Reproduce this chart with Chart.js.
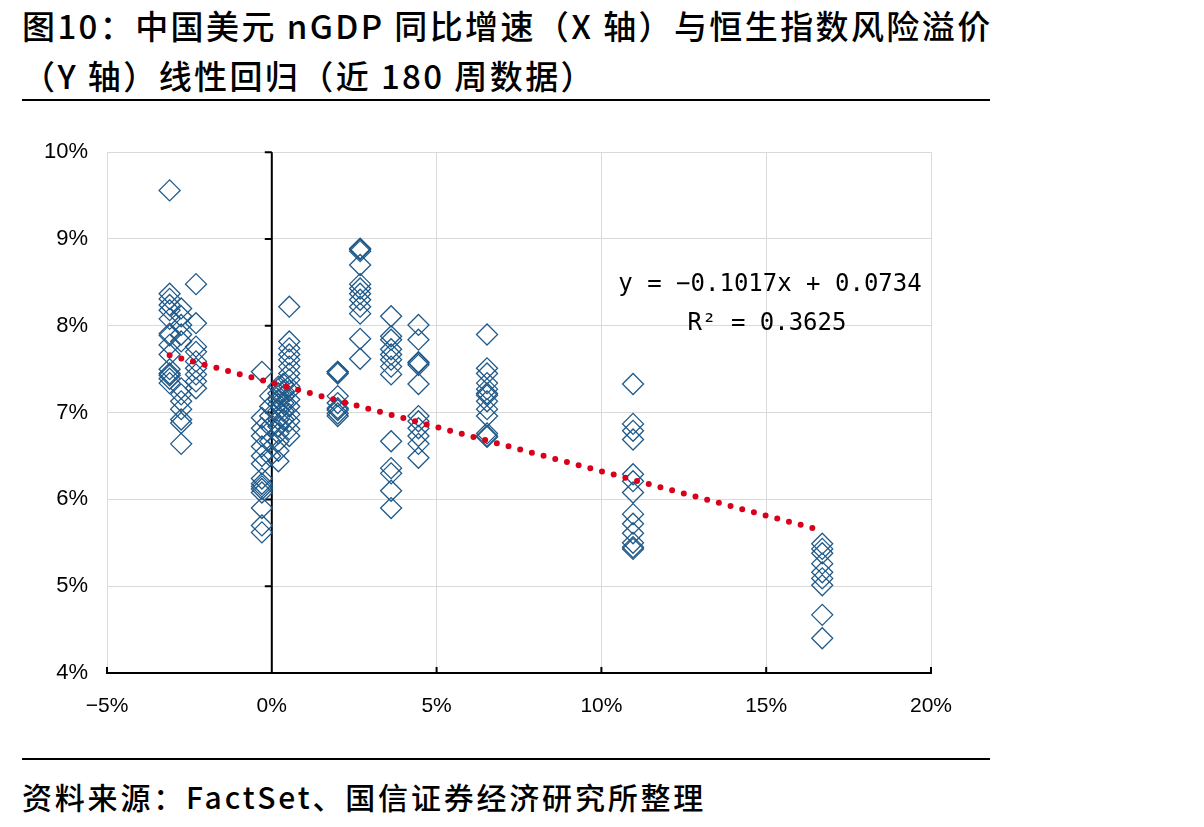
<!DOCTYPE html>
<html>
<head>
<meta charset="utf-8">
<script src="https://cdn.jsdelivr.net/npm/chart.js@4.4.1/dist/chart.umd.min.js"></script>
<style>
  body { margin: 0; background: #fff; width: 1204px; height: 827px; position: relative; overflow: hidden; }
  .title { position: absolute; left: 22px; top: 0px; font-family: "Noto Sans CJK SC", sans-serif; font-weight: 500; font-size: 33px; letter-spacing: 2.4px; line-height: 50px; color: #000; white-space: nowrap; }
  .rule { position: absolute; left: 22px; width: 968px; height: 2px; background: #000; }
  .source { position: absolute; left: 22px; top: 774px; font-family: "Noto Sans CJK SC", sans-serif; font-weight: 500; font-size: 30px; letter-spacing: 2.8px; line-height: 44px; color: #000; white-space: nowrap; }
  #chart { position: absolute; left: 0; top: 120px; }
</style>
</head>
<body>
<div class="title">图10：中国美元 nGDP 同比增速（X 轴）与恒生指数风险溢价<br>（Y 轴）线性回归（近 180 周数据）</div>
<div class="rule" style="top:99px"></div>
<canvas id="chart" width="1000" height="620"></canvas>
<div class="rule" style="top:758px"></div>
<div class="source">资料来源：FactSet、国信证券经济研究所整理</div>
<script>
// x = 中国美元nGDP同比 (%), y = 恒生指数风险溢价 (%)
var clusterX = [-3.1, -2.75, -2.3, -0.3, -0.05, 0.2, 0.35, 0.53, 2.0, 2.68, 3.62, 4.45, 6.53, 10.96, 16.7];
var clusterY = [
  [9.56, 8.37, 8.31, 8.24, 8.18, 8.08, 7.91, 7.89, 7.78, 7.67, 7.50, 7.45, 7.43, 7.39, 7.34],
  [8.20, 8.11, 8.01, 7.90, 7.82, 7.28, 7.21, 7.13, 7.04, 6.92, 6.88, 6.64],
  [8.48, 8.03, 7.76, 7.70, 7.59, 7.51, 7.44, 7.36, 7.28],
  [7.47, 6.94, 6.82, 6.73, 6.61, 6.50, 6.41, 6.24, 6.18, 6.15, 6.12, 6.08, 5.90, 5.70, 5.62],
  [7.19, 7.07, 6.96, 6.84, 6.67, 6.50],
  [7.30, 7.22, 7.15, 7.10, 7.02, 6.92, 6.84, 6.76, 6.67, 6.56, 6.44],
  [7.33, 7.25, 7.19, 7.11, 7.02, 6.92],
  [8.22, 7.82, 7.74, 7.67, 7.61, 7.53, 7.45, 7.38, 7.30, 7.25, 7.15, 7.07, 6.98, 6.90, 6.81, 6.73],
  [7.47, 7.47, 7.45, 7.19, 7.11, 7.05, 7.03, 6.99, 6.96],
  [8.89, 8.88, 8.86, 8.70, 8.48, 8.43, 8.37, 8.30, 8.22, 8.14, 7.85, 7.62],
  [8.11, 7.88, 7.84, 7.73, 7.67, 7.61, 7.53, 7.44, 6.67, 6.36, 6.30, 6.10, 5.90],
  [8.01, 7.84, 7.58, 7.57, 7.55, 7.33, 6.96, 6.90, 6.82, 6.73, 6.64, 6.48],
  [7.90, 7.51, 7.45, 7.34, 7.27, 7.22, 7.20, 7.13, 7.04, 6.96, 6.76, 6.73, 6.72],
  [7.33, 6.87, 6.79, 6.69, 6.29, 6.21, 6.08, 5.83, 5.72, 5.61, 5.50, 5.45, 5.43],
  [5.49, 5.43, 5.38, 5.26, 5.16, 5.09, 5.01, 4.67, 4.40]
];
// 趋势线两端
var trendX = [-3.1, 16.7];
var trendY = [7.66, 5.64];
var eqText = ["y = −0.1017x + 0.0734", "R² = 0.3625"];

var points = [];
for (var i = 0; i < clusterX.length; i++) {
  clusterY[i].forEach(function (v) { points.push({ x: clusterX[i], y: v }); });
}
var trend = trendX.map(function (x, i) { return { x: x, y: trendY[i] }; });

var axisPlugin = {
  id: 'axisPlugin',
  beforeDatasetsDraw: function (chart) {
    var c = chart.ctx, a = chart.chartArea;
    var xs = chart.scales.x, ys = chart.scales.y;
    var x0 = xs.getPixelForValue(0);
    c.save();
    c.strokeStyle = '#000';
    c.lineWidth = 2;
    c.beginPath();
    c.moveTo(x0, a.top);
    c.lineTo(x0, a.bottom);
    for (var v = 4; v <= 10; v++) {
      var py = ys.getPixelForValue(v);
      c.moveTo(x0 - 7, py);
      c.lineTo(x0, py);
    }
    for (var u = -5; u <= 20; u += 5) {
      var px = xs.getPixelForValue(u);
      c.moveTo(px, a.bottom);
      c.lineTo(px, a.bottom - 6);
    }
    c.stroke();
    c.restore();
  },
  afterDraw: function (chart) {
    var c = chart.ctx;
    c.save();
    c.fillStyle = '#000';
    c.font = '24px "DejaVu Sans Mono", monospace';
    c.textAlign = 'center';
    c.textBaseline = 'middle';
    c.fillText(eqText[0], 770, 165);
    c.fillText(eqText[1], 767, 204);
    c.restore();
  }
};

new Chart(document.getElementById('chart'), {
  type: 'scatter',
  data: {
    datasets: [{
      data: points,
      pointStyle: 'rectRot',
      pointRadius: 10.5,
      pointHoverRadius: 10.5,
      pointBorderWidth: 1.3,
      borderColor: '#1f5a8a',
      backgroundColor: 'rgba(0,0,0,0)',
      order: 2
    }, {
      type: 'line',
      data: trend,
      borderColor: '#d9001b',
      borderWidth: 6,
      borderDash: [0, 12.1],
      borderCapStyle: 'round',
      pointRadius: 0,
      fill: false,
      order: 1
    }]
  },
  options: {
    responsive: false,
    animation: false,
    layout: { padding: { top: 30, right: 69, left: 0, bottom: 0 } },
    plugins: { legend: { display: false }, tooltip: { enabled: false } },
    scales: {
      x: {
        type: 'linear',
        min: -5, max: 20,
        afterFit: function (s) { s.height = 67; },
        ticks: {
          stepSize: 5,
          padding: 21,
          color: '#000',
          font: { family: '"Liberation Sans", sans-serif', size: 21 },
          callback: function (v) { return v < 0 ? '−' + Math.abs(v) + '%' : v + '%'; }
        },
        grid: { color: '#d9d9d9', drawTicks: false },
        border: { color: '#000', width: 2 }
      },
      y: {
        min: 4, max: 10,
        afterFit: function (s) { s.width = 107; },
        ticks: {
          stepSize: 1,
          padding: 19,
          color: '#000',
          font: { family: '"Liberation Sans", sans-serif', size: 22 },
          callback: function (v) { return v + '%'; }
        },
        grid: { color: '#d9d9d9', drawTicks: false },
        border: { display: false }
      }
    }
  },
  plugins: [axisPlugin]
});
</script>
</body>
</html>
